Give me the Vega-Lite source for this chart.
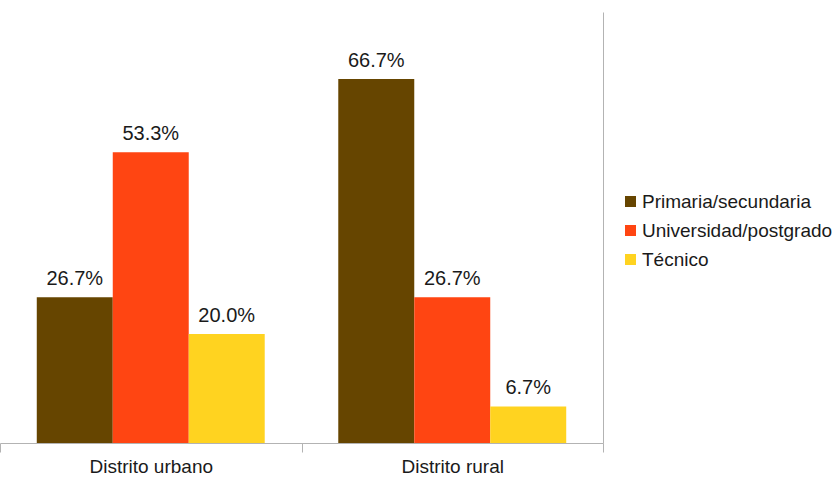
{
  "$schema": "https://vega.github.io/schema/vega-lite/v6.json",
  "autosize": {"type": "none"},
  "width": 603,
  "height": 431,
  "padding": {"left": 0, "top": 12, "right": 236, "bottom": 34},
  "background": "white",
  "config": {
    "view": {"stroke": null},
    "font": "Liberation Sans",
    "text": {"font": "Liberation Sans"},
    "axis": {"labelFont": "Liberation Sans"},
    "legend": {"labelFont": "Liberation Sans"}
  },
  "data": {
    "values": [
      {"distrito": "Distrito urbano", "nivel": "Primaria/secundaria", "pct": 0.267},
      {"distrito": "Distrito urbano", "nivel": "Universidad/postgrado", "pct": 0.533},
      {"distrito": "Distrito urbano", "nivel": "Técnico", "pct": 0.2},
      {"distrito": "Distrito rural", "nivel": "Primaria/secundaria", "pct": 0.667},
      {"distrito": "Distrito rural", "nivel": "Universidad/postgrado", "pct": 0.267},
      {"distrito": "Distrito rural", "nivel": "Técnico", "pct": 0.067}
    ]
  },
  "encoding": {
    "x": {
      "field": "distrito",
      "type": "nominal",
      "sort": ["Distrito urbano", "Distrito rural"],
      "scale": {"paddingInner": 0, "paddingOuter": 0},
      "axis": {
        "title": null,
        "labelAngle": 0,
        "labelFont": "Liberation Sans",
        "labelFontSize": 19,
        "labelColor": "#1a1a1a",
        "labelPadding": 5,
        "domainColor": "#b3b3b3",
        "tickColor": "#b3b3b3",
        "tickSize": 9,
        "tickBand": "extent",
        "grid": false
      }
    },
    "xOffset": {
      "field": "nivel",
      "type": "nominal",
      "sort": ["Primaria/secundaria", "Universidad/postgrado", "Técnico"],
      "scale": {"paddingInner": 0, "paddingOuter": 0.484}
    },
    "y": {
      "field": "pct",
      "type": "quantitative",
      "scale": {"domain": [0, 0.79], "nice": false},
      "axis": {
        "orient": "right",
        "title": null,
        "labels": false,
        "ticks": false,
        "grid": false,
        "domainColor": "#b3b3b3"
      }
    }
  },
  "layer": [
    {
      "mark": {"type": "bar"},
      "encoding": {
        "color": {
          "field": "nivel",
          "type": "nominal",
          "sort": ["Primaria/secundaria", "Universidad/postgrado", "Técnico"],
          "scale": {
            "domain": ["Primaria/secundaria", "Universidad/postgrado", "Técnico"],
            "range": ["#664500", "#ff4512", "#ffd320"]
          },
          "legend": {
            "title": null,
            "orient": "none",
            "legendX": 621,
            "legendY": 180,
            "symbolType": "square",
            "symbolSize": 121,
            "symbolStrokeWidth": 0,
            "labelFont": "Liberation Sans",
            "labelFontSize": 19,
            "labelColor": "#1a1a1a",
            "labelOffset": 2,
            "rowPadding": 9,
            "padding": 0,
            "labelLimit": 300
          }
        }
      }
    },
    {
      "mark": {"type": "text", "dy": -12, "baseline": "alphabetic", "font": "Liberation Sans", "fontSize": 20, "color": "#1a1a1a"},
      "encoding": {
        "text": {"field": "pct", "type": "quantitative", "format": ".1%"}
      }
    }
  ]
}
